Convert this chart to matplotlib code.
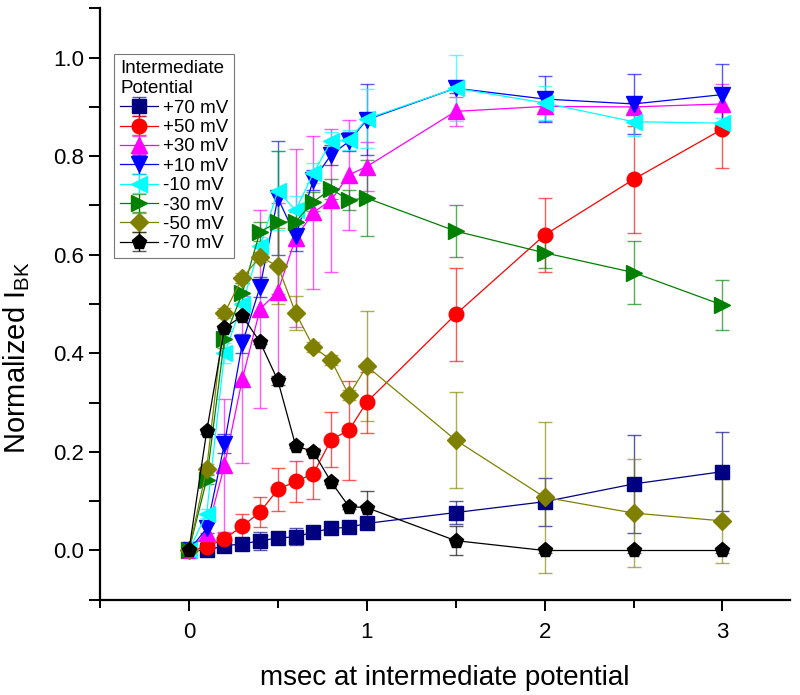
import matplotlib
matplotlib.use("Agg")
import matplotlib.pyplot as plt
from matplotlib.ticker import MultipleLocator, FixedLocator

plt.rcParams['font.family'] = ['Liberation Sans', 'DejaVu Sans']

x = [0, 0.1, 0.2, 0.3, 0.4, 0.5, 0.6, 0.7, 0.8, 0.9, 1.0, 1.5, 2.0, 2.5, 3.0]

labels = ['+70 mV', '+50 mV', '+30 mV', '+10 mV', '-10 mV', '-30 mV', '-50 mV', '-70 mV']

p70 = [0, 0.0, 0.01, 0.013, 0.02, 0.025, 0.028, 0.037, 0.045, 0.047, 0.055, 0.077, 0.099, 0.135, 0.16]
e70 = [0, 0.003, 0.005, 0.005, 0.018, 0.01, 0.017, 0.006, 0.006, 0.006, 0.008, 0.023, 0.049, 0.1, 0.08]

p50 = [0, 0.007, 0.024, 0.049, 0.078, 0.124, 0.14, 0.156, 0.225, 0.244, 0.301, 0.479, 0.64, 0.753, 0.855]
e50 = [0, 0.01, 0.012, 0.025, 0.03, 0.043, 0.042, 0.052, 0.055, 0.1, 0.062, 0.094, 0.075, 0.108, 0.078]

p30 = [0, 0.035, 0.173, 0.347, 0.49, 0.525, 0.634, 0.686, 0.711, 0.762, 0.779, 0.891, 0.901, 0.90, 0.906]
e30 = [0, 0.02, 0.135, 0.17, 0.2, 0.18, 0.18, 0.155, 0.145, 0.112, 0.05, 0.03, 0.03, 0.01, 0.04]

p10 = [0, 0.045, 0.217, 0.42, 0.535, 0.715, 0.638, 0.752, 0.803, 0.83, 0.874, 0.938, 0.916, 0.906, 0.925]
e10 = [0, 0.01, 0.02, 0.02, 0.02, 0.116, 0.03, 0.02, 0.02, 0.02, 0.072, 0.01, 0.047, 0.06, 0.062]

pm10 = [0, 0.075, 0.40, 0.50, 0.617, 0.73, 0.69, 0.766, 0.83, 0.833, 0.876, 0.938, 0.908, 0.87, 0.867]
em10 = [0, 0.01, 0.02, 0.02, 0.02, 0.08, 0.03, 0.02, 0.02, 0.02, 0.06, 0.067, 0.035, 0.03, 0.01]

pm30 = [0, 0.144, 0.43, 0.522, 0.647, 0.666, 0.667, 0.708, 0.733, 0.711, 0.715, 0.648, 0.604, 0.564, 0.498]
em30 = [0, 0.01, 0.02, 0.02, 0.02, 0.145, 0.02, 0.02, 0.02, 0.02, 0.077, 0.052, 0.03, 0.064, 0.05]

pm50 = [0, 0.166, 0.482, 0.553, 0.596, 0.577, 0.482, 0.413, 0.386, 0.315, 0.374, 0.224, 0.108, 0.076, 0.06]
em50 = [0, 0.01, 0.01, 0.01, 0.01, 0.077, 0.035, 0.01, 0.01, 0.01, 0.112, 0.098, 0.153, 0.11, 0.086]

pm70 = [0, 0.242, 0.451, 0.476, 0.423, 0.345, 0.213, 0.2, 0.139, 0.089, 0.087, 0.02, 0, 0, 0]
em70 = [0, 0.005, 0.005, 0.005, 0.005, 0.01, 0.005, 0.005, 0.005, 0.005, 0.033, 0.03, 0.005, 0.005, 0.005]

series = [p70, p50, p30, p10, pm10, pm30, pm50, pm70]
errors = [e70, e50, e30, e10, em10, em30, em50, em70]
colors = ['#000080', '#ff0000', '#ff00ff', '#0000ff', '#00ffff', '#008000', '#808000', '#000000']
markers = ['s', 'o', '^', 'v', '<', '>', 'D', 'p']
msizes = [9.5, 10.5, 11, 11, 11, 11, 9.5, 11]

fig = plt.figure(figsize=(8, 6.95), dpi=100)
ax = fig.add_axes([0.125, 0.137, 0.8625, 0.851])

for y, e, c, m, ms, lab in zip(series, errors, colors, markers, msizes, labels):
    eb = ax.errorbar(x, y, yerr=e, color=c, marker=m, markersize=ms, lw=0.9,
                     markeredgecolor=c, elinewidth=1.0, capsize=5, capthick=1.0,
                     ecolor=c, label=lab)
    for art in eb[1] + eb[2]:
        art.set_alpha(0.65)

ax.set_xlim(-0.5, 3.38)
ax.set_ylim(-0.1, 1.1)
ax.spines['top'].set_visible(False)
ax.spines['right'].set_visible(False)
ax.spines['left'].set_linewidth(1.6)
ax.spines['bottom'].set_linewidth(1.6)

ax.xaxis.set_major_locator(FixedLocator([0, 1, 2, 3]))
ax.xaxis.set_minor_locator(FixedLocator([-0.5, 0.5, 1.5, 2.5]))
ax.yaxis.set_major_locator(MultipleLocator(0.2))
ax.yaxis.set_minor_locator(MultipleLocator(0.1))
ax.tick_params(axis='both', which='major', direction='out', length=8, width=1.4)
ax.tick_params(axis='both', which='minor', direction='out', length=6, width=1.4)
ax.tick_params(axis='y', which='minor', length=8)
ax.tick_params(axis='y', labelsize=16)
ax.set_yticks([0, 0.2, 0.4, 0.6, 0.8, 1.0])
ax.set_yticklabels(['0.0', '0.2', '0.4', '0.6', '0.8', '1.0'])
ax.set_xticks([0, 1, 2, 3])
ax.set_xticklabels(['0', '1', '2', '3'], fontsize=16)
ax.tick_params(axis='x', pad=8)

ax.set_xlabel('msec at intermediate potential', fontsize=20, labelpad=16)
ax.set_ylabel(r'Normalized I$_{\mathregular{BK}}$', fontsize=21)
ax.yaxis.set_label_coords(-0.098, 0.41)

leg = ax.legend(title='Intermediate\nPotential', loc='upper left',
                bbox_to_anchor=(0.021, 0.922), fontsize=13.5, title_fontsize=13.5,
                frameon=True, fancybox=False, edgecolor='#555555',
                handlelength=2.0, handletextpad=0.3, borderpad=0.3,
                labelspacing=0.12, borderaxespad=0, alignment='left')
leg.get_frame().set_linewidth(0.8)
leg.get_title().set_linespacing(1.25)
for h in leg.legend_handles:
    h.set_alpha(1)

fig.savefig('out.png', dpi=100)
